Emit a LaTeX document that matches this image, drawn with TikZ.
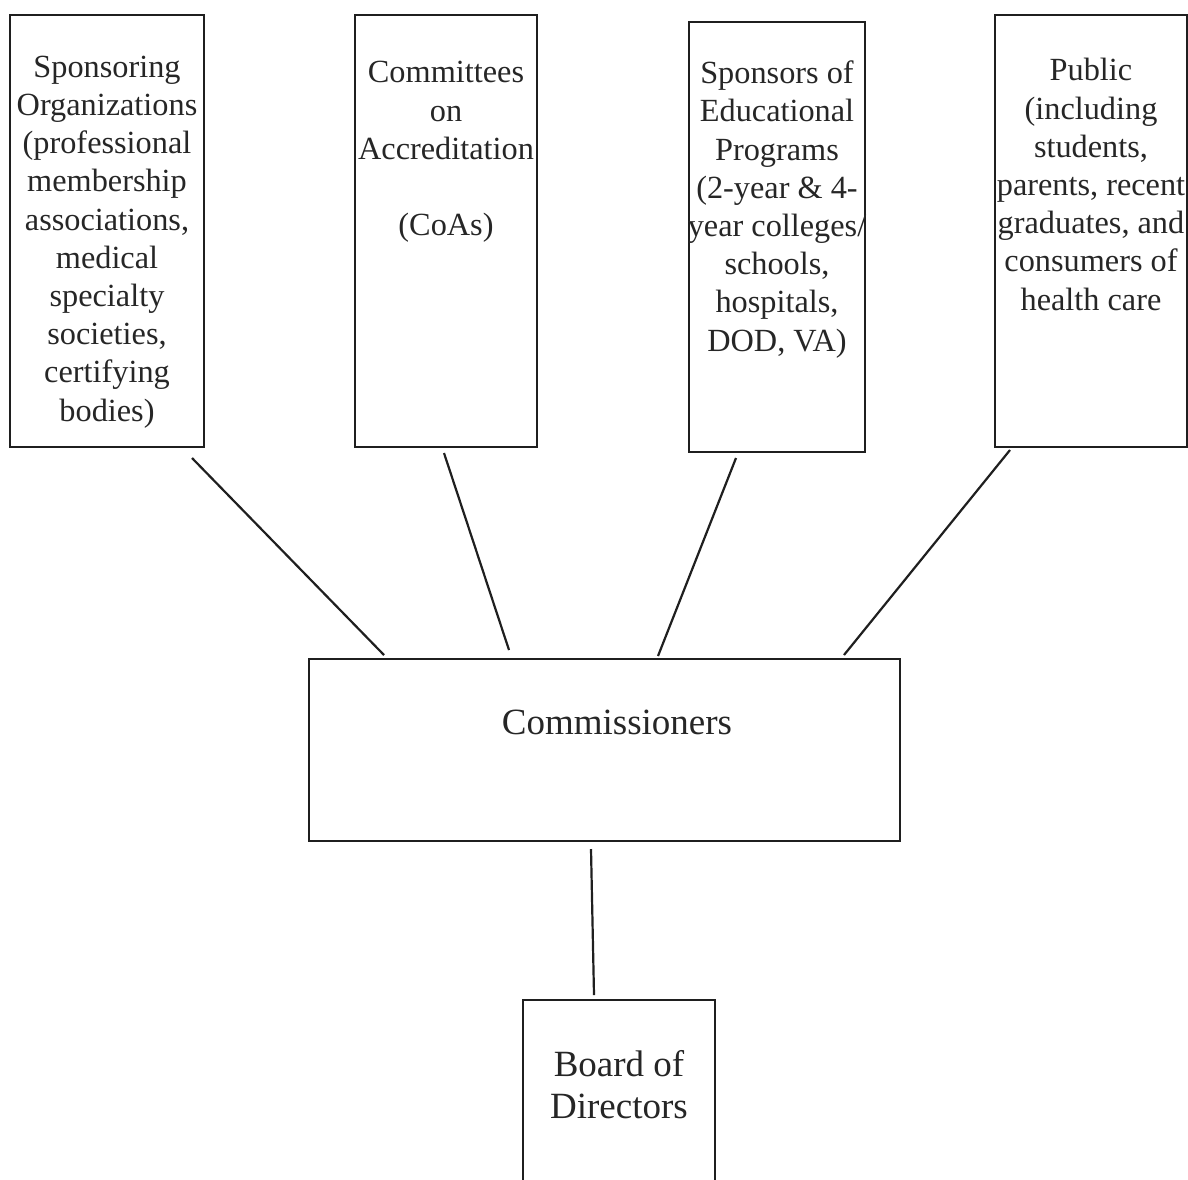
\documentclass[tikz,border=0pt]{standalone}
\usepackage{fontspec}
\setmainfont{Liberation Serif}
\usetikzlibrary{calc}
\begin{document}
\begin{tikzpicture}[x=1pt,y=-1pt,
  box/.style={draw=black!88, line width=2.4pt, inner sep=0pt, outer sep=0pt},
  lbl/.style={align=center, font=\fontsize{32.3}{38.2}\selectfont, inner sep=0pt, text=black!85},
  biglbl/.style={align=center, font=\fontsize{37}{42}\selectfont, inner sep=0pt, text=black!85},
  link/.style={draw=black!88, line width=2.2pt}]
\useasboundingbox (0,0) rectangle (1188,1179);
\clip (0,0) rectangle (1188,1179);
% boxes
\node[box, minimum width=194pt, minimum height=432pt] (b1) at (107,231) {};
\node[box, minimum width=182pt, minimum height=432pt] (b2) at (446,231) {};
\node[box, minimum width=176pt, minimum height=430pt] (b3) at (777,237) {};
\node[box, minimum width=192pt, minimum height=432pt] (b4) at (1091,231) {};
\node[box, minimum width=591pt, minimum height=182pt] (cm) at (604.5,750) {};
\node[box, minimum width=192pt, minimum height=200pt] (bd) at (619,1100) {};
% texts
\node[lbl] (t1) at (107,242) {Sponsoring\\Organizations\\(professional\\membership\\associations,\\medical\\specialty\\societies,\\certifying\\bodies)};
\node[lbl] (t2) at (446,152) {Committees\\on\\Accreditation\\[38.2pt](CoAs)};
\node[lbl] (t3) at (777,209.5) {Sponsors of\\Educational\\Programs\\(2-year \& 4-\\year colleges/\\schools,\\hospitals,\\DOD, VA)};
\node[lbl] (t4) at (1091,184.5) {Public\\(including\\students,\\parents, recent\\graduates, and\\consumers of\\health care};
\node[biglbl] (tc) at (617,722) {Commissioners};
\node[biglbl] (tb) at (619,1084.5) {Board of\\Directors};
% connectors
\draw[link] ($(b1.south east)+(-12,11)$) -- ($(cm.north west)+(75,-4)$);
\draw[link] ($(b2.south)+(-2,6)$) -- ($(cm.north west)+(200,-9)$);
\draw[link] ($(b3.south)+(-41,6)$) -- ($(cm.north west)+(349,-3)$);
\draw[link] ($(b4.south west)+(15,3)$) -- ($(cm.north west)+(535,-4)$);
\draw[link] ($(cm.south)+(-13.5,8)$) -- ($(bd.north)+(-25,-5)$);
\end{tikzpicture}
\end{document}
